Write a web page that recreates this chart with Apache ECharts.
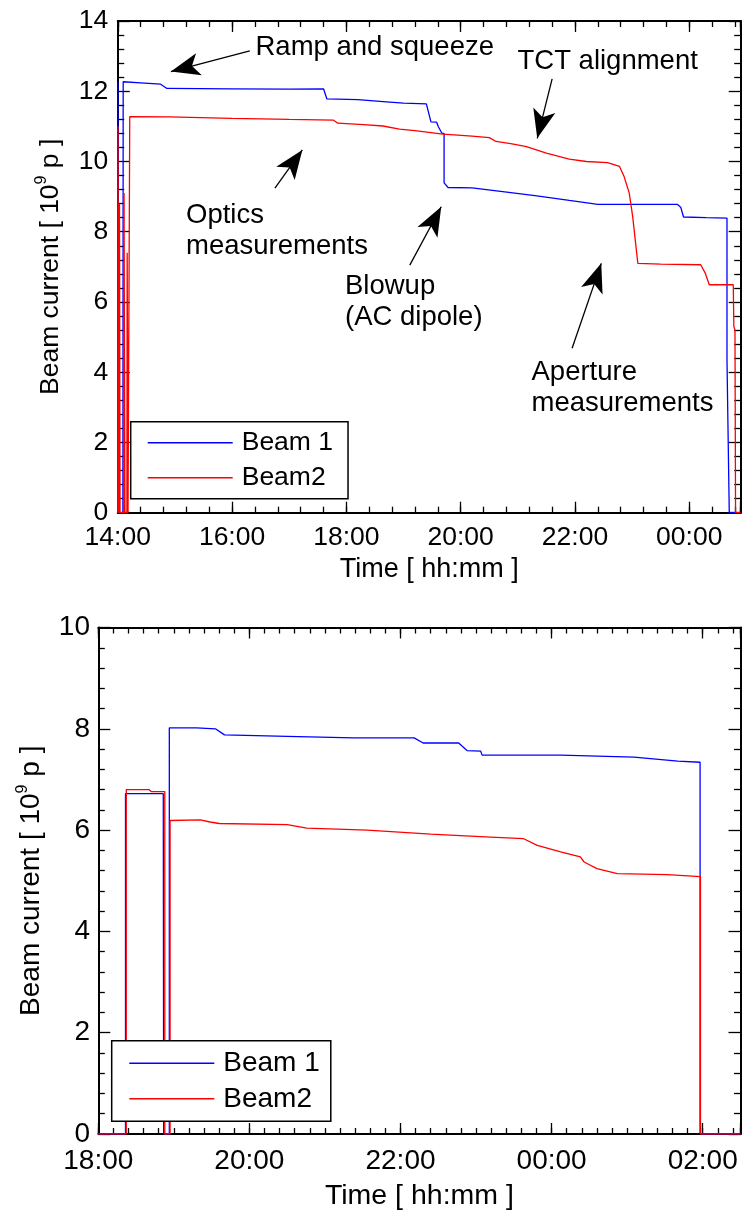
<!DOCTYPE html>
<html>
<head>
<meta charset="utf-8">
<script src="https://cdn.jsdelivr.net/npm/echarts@6/dist/echarts.min.js"></script>
<style>
  html, body { margin: 0; padding: 0; background: #fff; }
  #chart { width: 743px; height: 1220px; }
</style>
</head>
<body>
<div id="chart"></div>
<script>
// fill 1 (upper panel): [time in hours, current in 1e9 p]
const beam1Fill1 = [
  [14.0, 0], [14.004, 12.27], [14.02, 12.27], [14.02, 0], [14.09, 0], [14.095, 12.27],
  [14.4, 12.24], [14.75, 12.2], [14.86, 12.08], [16.0, 12.07], [17.0, 12.06], [17.6, 12.07],
  [17.66, 11.78], [18.2, 11.76], [18.7, 11.7], [19.0, 11.66], [19.4, 11.64], [19.48, 11.13],
  [19.58, 11.12], [19.61, 10.99], [19.67, 10.81], [19.71, 10.8], [19.71, 9.39], [19.78, 9.26],
  [20.2, 9.25], [20.7, 9.15], [21.3, 9.03], [21.9, 8.89], [22.4, 8.78], [23.0, 8.78],
  [23.79, 8.78], [23.85, 8.7], [23.9, 8.42], [24.3, 8.4], [24.66, 8.39], [24.66, 4.35],
  [24.69, 4.3], [24.7, 0], [24.9, 0]
];
const beam2Fill1 = [
  [14.0, 0], [14.004, 11.0], [14.015, 11.0], [14.02, 0], [14.03, 0], [14.03, 8.8],
  [14.04, 8.8], [14.04, 0], [14.105, 0], [14.11, 9.1], [14.12, 9.1], [14.125, 0],
  [14.16, 0], [14.165, 7.4], [14.175, 7.4], [14.18, 0], [14.205, 0], [14.21, 11.28],
  [14.9, 11.27], [16.0, 11.23], [17.0, 11.2], [17.77, 11.18], [17.85, 11.09], [18.3, 11.05],
  [18.64, 11.01], [18.93, 10.92], [19.2, 10.88], [19.69, 10.78], [20.2, 10.72], [20.5, 10.68],
  [20.62, 10.57], [20.9, 10.5], [21.15, 10.42], [21.5, 10.24], [21.9, 10.07], [22.2, 10.0],
  [22.57, 9.97], [22.78, 9.86], [22.86, 9.57], [22.95, 9.1], [23.01, 8.43], [23.1, 7.1],
  [23.5, 7.08], [24.2, 7.06], [24.28, 6.82], [24.35, 6.49], [24.77, 6.49], [24.78, 5.3],
  [24.8, 5.2], [24.81, 0], [24.9, 0]
];
// fill 2 (lower panel)
const beam1Fill2 = [
  [18.0, 0], [18.36, 0], [18.36, 6.72], [18.86, 6.72], [18.865, 0], [18.94, 0], [18.94, 8.02],
  [19.3, 8.02], [19.55, 8.0], [19.67, 7.88], [20.5, 7.85], [21.38, 7.82], [22.18, 7.82],
  [22.3, 7.72], [22.77, 7.72], [22.88, 7.57], [23.06, 7.56], [23.08, 7.48], [24.12, 7.48],
  [25.09, 7.44], [25.67, 7.36], [25.965, 7.34], [25.965, 0], [26.5, 0]
];
const beam2Fill2 = [
  [18.0, 0], [18.37, 0], [18.37, 6.8], [18.67, 6.8], [18.7, 6.76], [18.88, 6.76], [18.88, 0],
  [18.95, 0], [18.95, 6.19], [19.35, 6.2], [19.48, 6.16], [19.6, 6.13], [20.5, 6.11],
  [20.76, 6.04], [21.56, 6.0], [22.4, 5.92], [23.19, 5.86], [23.63, 5.83], [23.81, 5.7],
  [24.12, 5.57], [24.38, 5.47], [24.43, 5.37], [24.6, 5.24], [24.87, 5.14], [25.53, 5.12],
  [25.97, 5.08], [25.97, 0], [26.5, 0]
];
const seriesNames = ['Beam 1', 'Beam2'];

// annotations of the upper panel (arrow tail -> tip, data units)
const arrowTails = [[16.31, 13.15], [21.6, 12.35], [16.75, 9.24], [19.11, 7.05], [21.95, 4.68]];
const arrowTips = [[14.93, 12.56], [21.34, 10.66], [17.23, 10.33], [19.66, 8.71], [22.46, 7.1]];
const noteText = ['Ramp and squeeze', 'TCT alignment', 'Optics', 'measurements',
  'Blowup', '(AC dipole)', 'Aperture', 'measurements'];
const noteLayout = [[255.5, 47], [517.5, 61], [186, 215], [186, 246.5],
  [345, 286.5], [345, 317], [531.5, 372.5], [531.5, 403.5]];

const FONT = "'Liberation Sans', Arial, Helvetica, sans-serif";
const BLUE = '#0000ff', RED = '#ff0000';

function hhmm(v) {
  const r = v / 2;
  if (Math.abs(r - Math.round(r)) > 1e-6) return '';
  const h = Math.round(v) % 24;
  return (h < 10 ? '0' : '') + h + ':00';
}

const axisLine = { show: true, onZero: false, lineStyle: { color: '#000', width: 2 } };
const tickStyle = { color: '#000', width: 1.3 };

function makeX(grid, min, max, minor, fs, margin, gap) {
  const base = { gridIndex: grid, type: 'value', min: min, max: max, splitLine: { show: false } };
  return [
    Object.assign({}, base, {
      position: 'bottom', interval: 2, axisLine: axisLine,
      axisTick: { inside: true, length: 11, lineStyle: tickStyle },
      axisLabel: { margin: margin, fontSize: fs, color: '#000', fontFamily: FONT, formatter: hhmm },
      name: 'Time [ hh:mm ]', nameLocation: 'middle', nameGap: gap, nameMoveOverlap: false,
      nameTextStyle: { fontSize: fs + 0.5, color: '#000', fontFamily: FONT }
    }),
    Object.assign({}, base, {
      position: 'top', interval: 2, axisLine: axisLine,
      axisTick: { inside: true, length: 11, lineStyle: tickStyle }, axisLabel: { show: false }
    }),
    Object.assign({}, base, {
      position: 'bottom', interval: minor, axisLine: { show: false, onZero: false },
      axisTick: { inside: true, length: 6, lineStyle: tickStyle }, axisLabel: { show: false }
    }),
    Object.assign({}, base, {
      position: 'top', interval: minor, axisLine: { show: false, onZero: false },
      axisTick: { inside: true, length: 6, lineStyle: tickStyle }, axisLabel: { show: false }
    })
  ];
}

function makeY(grid, max, fs, margin, gap, lh, pad) {
  const base = {
    gridIndex: grid, type: 'value', min: 0, max: max, interval: 2, splitLine: { show: false },
    axisLine: axisLine,
    axisTick: { inside: true, length: 12, lineStyle: tickStyle },
    minorTick: { show: true, splitNumber: 5, length: 6.5, lineStyle: tickStyle }
  };
  return [
    Object.assign({}, base, {
      position: 'left',
      axisLabel: { margin: margin, fontSize: fs, color: '#000', fontFamily: FONT },
      name: '{n|Beam current [ 10}{s|9}{n| p ]}', nameLocation: 'middle', nameGap: gap, nameRotate: 90,
      nameMoveOverlap: false,
      nameTextStyle: {
        rich: {
          n: { fontSize: fs, lineHeight: lh, fontFamily: FONT, color: '#000', verticalAlign: 'bottom' },
          s: { fontSize: 16, lineHeight: 16, fontFamily: FONT, color: '#000', verticalAlign: 'top', padding: [0, 0, pad, 0] }
        }
      }
    }),
    Object.assign({}, base, { position: 'right', axisLabel: { show: false } })
  ];
}

function makeLegend(left, top, fs, lh, gap, padding) {
  return {
    data: [{ name: seriesNames[0], itemStyle: { color: BLUE } }, { name: seriesNames[1], itemStyle: { color: RED } }],
    orient: 'vertical', left: left, top: top, padding: padding, itemGap: gap,
    itemWidth: 85, itemHeight: 1.5, icon: 'rect', selectedMode: false,
    borderColor: '#000', borderWidth: 1.5, backgroundColor: '#fff', z: 10,
    textStyle: { fontSize: fs, lineHeight: lh, color: '#000', fontFamily: FONT, padding: [0, 0, 0, 4] }
  };
}

function lineSeries(name, data, xi, yi, color) {
  return {
    type: 'line', name: name, data: data, xAxisIndex: xi, yAxisIndex: yi,
    symbol: 'none', showSymbol: false, animation: false, z: 3,
    lineStyle: { color: color, width: 1.3 }, itemStyle: { color: color }
  };
}

const chart = echarts.init(document.getElementById('chart'), null, { renderer: 'canvas' });

const s1 = lineSeries(seriesNames[0], beam1Fill1, 0, 0, BLUE);
s1.markLine = {
  silent: true, animation: false, symbol: ['none', 'none'],
  label: { show: false }, emphasis: { disabled: true },
  lineStyle: { color: '#000', width: 1.3, type: 'solid' },
  data: arrowTails.map(function (t, i) {
    return [
      { coord: t, symbol: 'none' },
      { coord: arrowTips[i], symbol: 'arrow', symbolSize: [17, 29] }
    ];
  })
};

chart.setOption({
  animation: false,
  backgroundColor: '#fff',
  grid: [
    { left: 117.75, right: 2.3, top: 21, bottom: 707.3, containLabel: false, outerBoundsMode: 'none' },
    { left: 98.3, right: 2.5, top: 627.5, bottom: 86, containLabel: false, outerBoundsMode: 'none' }
  ],
  xAxis: makeX(0, 14, 24.9, 0.4, 26.5, 11, 43).concat(makeX(1, 18, 26.5, 0.2, 28, 13.5, 48)),
  yAxis: makeY(0, 14, 26.5, 9.5, 54, 30, 28).concat(makeY(1, 10, 28, 8.3, 53, 31, 28)),
  legend: [
    makeLegend(130.7, 421.7, 26.5, 30, 5, [6, 15, 6, 17]),
    makeLegend(111.7, 1040.7, 28, 31, 4.6, [7, 11, 7, 17.6])
  ],
  series: [
    s1,
    lineSeries(seriesNames[1], beam2Fill1, 0, 0, RED),
    lineSeries(seriesNames[0], beam1Fill2, 4, 2, BLUE),
    lineSeries(seriesNames[1], beam2Fill2, 4, 2, RED)
  ],
  graphic: noteText.map(function (t, i) {
    return {
      type: 'text', x: noteLayout[i][0], y: noteLayout[i][1], z: 20,
      style: { text: t, fontSize: 27.5, fontFamily: FONT, fill: '#000', align: 'left', verticalAlign: 'middle' }
    };
  })
});
</script>
</body>
</html>
